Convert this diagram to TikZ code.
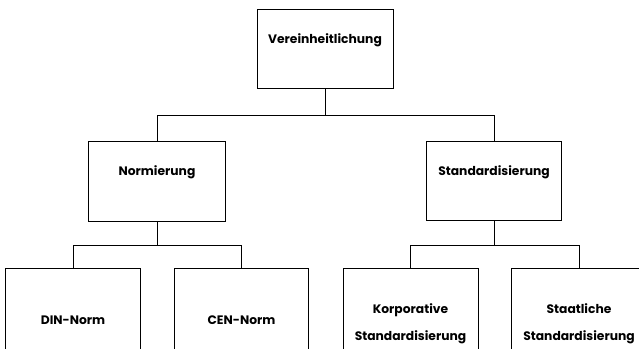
\documentclass[tikz,border=0pt]{standalone}
\usepackage{fontspec}
\setmainfont{Poppins}
\begin{document}
\begin{tikzpicture}[x=1pt,y=1pt,
  box/.style={draw=black,line width=0.9pt,fill=white,rectangle,inner sep=0pt},
  lab/.style={font=\fontsize{12.3}{27}\selectfont\bfseries,align=center,inner sep=0pt},
  conn/.style={draw=black,line width=0.9pt}]
\useasboundingbox (0,0) rectangle (639,-348);
\clip (0,0) rectangle (639,-348);
% boxes
\node[box,minimum width=136pt,minimum height=79pt] (v) at (325,-48.5) {};
\node[box,minimum width=137pt,minimum height=80pt] (n) at (157,-181) {};
\node[box,minimum width=135pt,minimum height=79pt] (s) at (494,-180.5) {};
\node[box,minimum width=135pt,minimum height=110pt] (din) at (73,-323) {};
\node[box,minimum width=134pt,minimum height=110pt] (cen) at (241.5,-323) {};
\node[box,minimum width=135pt,minimum height=110pt] (kor) at (410.5,-323) {};
\node[box,minimum width=135pt,minimum height=110pt] (sta) at (579,-323) {};
% labels
\node[lab] (vt) at (325,-40) {Vereinheitlichung};
\node[lab] (nt) at (157,-172) {Normierung};
\node[lab] (st) at (494,-172) {Standardisierung};
\node[lab] (dint) at (73,-320) {DIN-Norm};
\node[lab] (cent) at (241.5,-320) {CEN-Norm};
\node[lab] (kort) at (410.5,-323.5) {Korporative\\Standardisierung};
\node[lab] (stat) at (579,-323.5) {Staatliche\\Standardisierung};
% junctions
\coordinate (j1) at (325,-115);
\coordinate (j2) at (157,-245);
\coordinate (j3) at (494,-245);
\draw[conn] (v.south) -- (j1);
\draw[conn] (n.north) |- (j1);
\draw[conn] (s.north) |- (j1);
\draw[conn] (n.south) -- (j2);
\draw[conn] (din.north) |- (j2);
\draw[conn] (cen.north) |- (j2);
\draw[conn] (s.south) -- (j3);
\draw[conn] (kor.north) |- (j3);
\draw[conn] (sta.north) |- (j3);
\end{tikzpicture}
\end{document}
